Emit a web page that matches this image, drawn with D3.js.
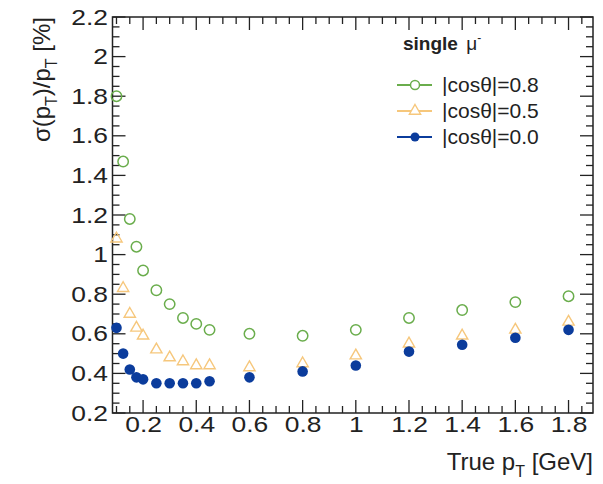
<!DOCTYPE html>
<html>
<head>
  <script src="https://cdnjs.cloudflare.com/ajax/libs/d3/7.0.0/d3.min.js"></script>
  <style>
    body { margin: 0; background: #fff; }
    text { font-family: "Liberation Sans", Arial, sans-serif; fill: #222; }
  </style>
</head>
<body>
  <div id="chart"></div>

  <script>
    // true pT values [GeV]
    var ptValues = [0.1, 0.125, 0.15, 0.175, 0.2, 0.25, 0.3, 0.35, 0.4, 0.45, 0.6, 0.8, 1.0, 1.2, 1.4, 1.6, 1.8];

    // sigma(pT)/pT [%] for each |cos theta|
    var cos08 = [1.80, 1.47, 1.18, 1.04, 0.92, 0.82, 0.75, 0.68, 0.65, 0.62, 0.60, 0.59, 0.62, 0.68, 0.72, 0.76, 0.79];
    var cos05 = [1.08, 0.83, 0.70, 0.63, 0.59, 0.52, 0.48, 0.46, 0.44, 0.44, 0.43, 0.45, 0.49, 0.55, 0.59, 0.62, 0.66];
    var cos00 = [0.63, 0.50, 0.42, 0.38, 0.37, 0.35, 0.35, 0.35, 0.35, 0.36, 0.38, 0.41, 0.44, 0.51, 0.545, 0.58, 0.62];

    var seriesNames = ["|cos\u03b8|=0.8", "|cos\u03b8|=0.5", "|cos\u03b8|=0.0"];

    var xTicks = [0.2, 0.4, 0.6, 0.8, 1, 1.2, 1.4, 1.6, 1.8];
    var yTicks = [0.2, 0.4, 0.6, 0.8, 1, 1.2, 1.4, 1.6, 1.8, 2, 2.2];

    var W = 603, H = 484;
    var pLeft = 112.5, pRight = 593, pTop = 17, pBottom = 413;

    var svg = d3.select("#chart").append("svg")
      .attr("width", W)
      .attr("height", H);

    var x = d3.scaleLinear().domain([0.085, 1.892]).range([pLeft, pRight]);
    var y = d3.scaleLinear().domain([0.2, 2.2]).range([pBottom, pTop]);

    // minor tick positions (every 0.05, skipping the majors)
    var xMinor = d3.range(2, 38).map(function(i) { return i * 0.05; }).filter(function(v) { return i5(v); });
    var yMinor = d3.range(5, 44).map(function(i) { return i * 0.05; }).filter(function(v) { return i5(v); });
    function i5(v) { return Math.abs(v * 5 - Math.round(v * 5)) > 1e-6; }

    var majLen = 13, minLen = 7;
    var sx = 1.2; // tick labels in the reference are wide
    var fmt = function(d) { return d3.format("~g")(d); };

    // tick labels from the axes
    var gx = svg.append("g")
      .attr("transform", "translate(0," + pBottom + ")")
      .call(d3.axisBottom(x).tickValues(xTicks).tickSize(0).tickPadding(3).tickFormat(fmt));
    gx.select(".domain").remove();
    gx.selectAll("text").style("font-size", "22px").attr("fill", "#222")
      .attr("transform", "scale(" + sx + ",1)");

    var gy = svg.append("g")
      .attr("transform", "translate(" + pLeft + ",0)")
      .call(d3.axisLeft(y).tickValues(yTicks).tickSize(0).tickPadding(4.5).tickFormat(fmt));
    gy.select(".domain").remove();
    gy.selectAll("text").style("font-size", "22px").attr("fill", "#222")
      .attr("x", -4.5 / sx)
      .attr("transform", "scale(" + sx + ",1)");

    // inward tick marks on all four sides
    var tk = svg.append("g").attr("stroke", "#222").attr("stroke-width", 1.3);
    function xTickLines(vals, len) {
      [[pBottom, -1], [pTop, 1]].forEach(function(s) {
        tk.selectAll(null).data(vals).enter().append("line")
          .attr("x1", function(d) { return x(d); })
          .attr("x2", function(d) { return x(d); })
          .attr("y1", s[0])
          .attr("y2", s[0] + s[1] * len);
      });
    }
    function yTickLines(vals, len) {
      [[pLeft, 1], [pRight, -1]].forEach(function(s) {
        tk.selectAll(null).data(vals).enter().append("line")
          .attr("y1", function(d) { return y(d); })
          .attr("y2", function(d) { return y(d); })
          .attr("x1", s[0])
          .attr("x2", s[0] + s[1] * len);
      });
    }
    xTickLines(xTicks, majLen);
    xTickLines(xMinor, minLen);
    yTickLines(yTicks, majLen);
    yTickLines(yMinor, minLen);

    // frame
    svg.append("path")
      .attr("d", "M" + pLeft + "," + pTop + "H" + pRight + "V" + pBottom + "H" + pLeft + "Z")
      .attr("fill", "none").attr("stroke", "#222").attr("stroke-width", 1.5);

    // markers
    var green = "#6aad4c", yellow = "#f6c77c", blue = "#0b3c9c";

    var triangle = d3.symbol().type(d3.symbolTriangle).size(55);

    var data08 = ptValues.map(function(p, i) { return { x: p, y: cos08[i] }; });
    var data05 = ptValues.map(function(p, i) { return { x: p, y: cos05[i] }; });
    var data00 = ptValues.map(function(p, i) { return { x: p, y: cos00[i] }; });

    svg.append("g").selectAll("circle")
      .data(data08)
      .enter().append("circle")
      .attr("cx", function(d) { return x(d.x); })
      .attr("cy", function(d) { return y(d.y); })
      .attr("r", 5.2)
      .attr("fill", "none")
      .attr("stroke", green)
      .attr("stroke-width", 1.5);

    svg.append("g").selectAll("path")
      .data(data05)
      .enter().append("path")
      .attr("d", triangle)
      .attr("transform", function(d) { return "translate(" + x(d.x) + "," + y(d.y) + ")"; })
      .attr("fill", "none")
      .attr("stroke", yellow)
      .attr("stroke-width", 1.4);

    svg.append("g").selectAll("circle")
      .data(data00)
      .enter().append("circle")
      .attr("cx", function(d) { return x(d.x); })
      .attr("cy", function(d) { return y(d.y); })
      .attr("r", 5.3)
      .attr("fill", blue);

    // legend
    var lg = svg.append("g");
    var head = lg.append("text").attr("x", 403).attr("y", 50).style("font-size", "19px");
    head.append("tspan").attr("font-weight", "bold").text("single ");
    head.append("tspan").attr("dx", 3).text("\u03bc");
    head.append("tspan").attr("dy", -8).style("font-size", "12px").text("-");

    var colors = [green, yellow, blue];
    var rowY = [85, 111, 137];
    seriesNames.forEach(function(name, i) {
      lg.append("line")
        .attr("x1", 397).attr("x2", 432)
        .attr("y1", rowY[i]).attr("y2", rowY[i])
        .attr("stroke", colors[i]).attr("stroke-width", 2);
      if (i === 0) {
        lg.append("circle").attr("cx", 415).attr("cy", rowY[i]).attr("r", 4.5)
          .attr("fill", "#fff").attr("stroke", green).attr("stroke-width", 1.5);
      } else if (i === 1) {
        lg.append("path").attr("d", triangle)
          .attr("transform", "translate(415," + rowY[i] + ")")
          .attr("fill", "#fff").attr("stroke", yellow).attr("stroke-width", 1.4);
      } else {
        lg.append("circle").attr("cx", 415).attr("cy", rowY[i]).attr("r", 4.5).attr("fill", blue);
      }
      lg.append("text")
        .attr("x", 442).attr("y", rowY[i] + 7)
        .style("font-size", "21px")
        .text(name);
    });

    // axis titles
    var xt = svg.append("text")
      .attr("x", 593).attr("y", 470)
      .attr("text-anchor", "end")
      .style("font-size", "24px");
    xt.append("tspan").text("True p");
    xt.append("tspan").attr("dy", 7).style("font-size", "16px").text("T");
    xt.append("tspan").attr("dy", -7).text(" [GeV]");

    var yt = svg.append("text")
      .attr("transform", "translate(50," + pTop + ") rotate(-90)")
      .attr("text-anchor", "end")
      .style("font-size", "24px");
    yt.append("tspan").text("\u03c3(p");
    yt.append("tspan").attr("dy", 7).style("font-size", "16px").text("T");
    yt.append("tspan").attr("dy", -7).text(")/p");
    yt.append("tspan").attr("dy", 7).style("font-size", "16px").text("T");
    yt.append("tspan").attr("dy", -7).text(" [%]");
  </script>
</body>
</html>
